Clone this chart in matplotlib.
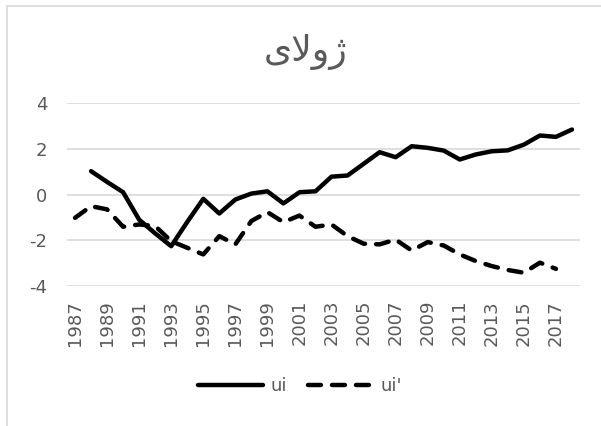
import matplotlib
matplotlib.use("Agg")
import matplotlib.pyplot as plt
from matplotlib.patches import Rectangle

years = list(range(1987, 2019))
ui = [None, 1.02, 0.55, 0.10, -1.10, -1.70, -2.26, -1.20, -0.19, -0.83, -0.22, 0.04, 0.14,
      -0.39, 0.10, 0.14, 0.78, 0.83, 1.34, 1.85, 1.63, 2.11, 2.04, 1.92, 1.53, 1.75,
      1.89, 1.93, 2.18, 2.58, 2.52, 2.84]
ui_p = [-1.02, -0.51, -0.65, -1.41, -1.31, -1.38, -2.04, -2.33, -2.62, -1.82, -2.18, -1.16,
        -0.77, -1.21, -0.92, -1.41, -1.31, -1.82, -2.15, -2.18, -1.97, -2.45, -2.08, -2.23,
        -2.62, -2.91, -3.13, -3.30, -3.42, -2.98, -3.25, None]
yticks = [-4, -2, 0, 2, 4]
title_text = "\uFBFC\uFEFB\uFEED\uFB8A"  # ژولای (visual order, presentation forms)

fig = plt.figure(figsize=(6.01, 4.26), dpi=100)
fig.patches.append(Rectangle((7/601, -0.05), 1.1, 1 - 5.5/426 + 0.05, transform=fig.transFigure,
                             fill=False, edgecolor="#d9d9d9", linewidth=1.2))
ax = fig.add_axes([67/601, 1 - 286/426, (580 - 67)/601, (286 - 103)/426])

x = list(range(len(years)))
xs1 = [i for i, v in zip(x, ui) if v is not None]
ys1 = [v for v in ui if v is not None]
xs2 = [i for i, v in zip(x, ui_p) if v is not None]
ys2 = [v for v in ui_p if v is not None]

ax.plot(xs1, ys1, color="black", linewidth=3.2, solid_capstyle="round", solid_joinstyle="round", label="ui")
ax.plot(xs2, ys2, color="black", linewidth=3.2, dashes=(2.9, 2.5), dash_capstyle="round",
        label="ui'")

ax.set_xlim(-0.5, len(years) - 0.5)
ax.set_ylim(-4, 4)
ax.set_yticks(yticks)
ax.set_yticklabels([str(t) for t in yticks])
ax.set_xticks(x[::2])
ax.set_xticklabels([str(y) for y in years[::2]], rotation=90)
ax.grid(axis="y", color="#d9d9d9", linewidth=1.2)
ax.set_axisbelow(True)
for s in ax.spines.values():
    s.set_visible(False)
ax.tick_params(axis="both", length=0, labelsize=13, labelcolor="#595959")
ax.tick_params(axis="y", pad=14)
ax.tick_params(axis="x", pad=10)

fig.text(306/601, 1 - 52/426, title_text, ha="center", va="center", fontsize=26,
         color="#595959", family=["DejaVu Sans"])

leg = fig.legend(loc="center", bbox_to_anchor=(300/601, 1 - 386/426), ncol=2, frameon=False,
                 fontsize=13, handlelength=3.6, columnspacing=1.2, handletextpad=0.4)
for t in leg.get_texts():
    t.set_color("#595959")

fig.savefig("out.png", dpi=100, facecolor="white")
